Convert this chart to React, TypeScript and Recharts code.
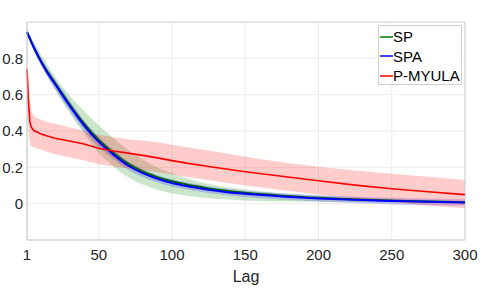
import React from 'react';
import { ComposedChart, Line, Area, XAxis, YAxis, CartesianGrid, ReferenceLine } from 'recharts';

const lags = [1, 2, 3, 4, 6, 8, 10, 15, 20, 30, 40, 50, 60, 70, 80, 90, 100, 110, 125, 150, 175, 200, 225, 250, 275, 300];

const spMean = [0.944, 0.926, 0.908, 0.89, 0.856, 0.824, 0.794, 0.726, 0.667, 0.548, 0.44, 0.35, 0.28, 0.22, 0.177, 0.146, 0.123, 0.105, 0.084, 0.06, 0.044, 0.032, 0.023, 0.017, 0.012, 0.008];
const spLow = [0.93, 0.91, 0.89, 0.87, 0.835, 0.8, 0.77, 0.7, 0.63, 0.5, 0.385, 0.28, 0.205, 0.145, 0.105, 0.077, 0.058, 0.044, 0.03, 0.018, 0.012, 0.01, 0.008, 0.006, 0.004, 0.002];
const spHigh = [0.958, 0.945, 0.93, 0.915, 0.885, 0.857, 0.83, 0.765, 0.7, 0.595, 0.51, 0.43, 0.36, 0.295, 0.245, 0.2, 0.168, 0.14, 0.108, 0.078, 0.058, 0.044, 0.034, 0.026, 0.02, 0.014];

const spaMean = [0.944, 0.925, 0.907, 0.889, 0.854, 0.821, 0.79, 0.72, 0.66, 0.54, 0.43, 0.34, 0.27, 0.21, 0.168, 0.137, 0.114, 0.097, 0.077, 0.054, 0.04, 0.029, 0.021, 0.015, 0.01, 0.006];
const spaLow = [0.935, 0.914, 0.894, 0.874, 0.837, 0.802, 0.769, 0.696, 0.634, 0.512, 0.402, 0.313, 0.245, 0.187, 0.146, 0.116, 0.094, 0.078, 0.059, 0.037, 0.023, 0.012, 0.003, -0.004, -0.009, -0.012];
const spaHigh = [0.952, 0.935, 0.919, 0.903, 0.871, 0.84, 0.811, 0.744, 0.686, 0.568, 0.458, 0.367, 0.295, 0.233, 0.19, 0.158, 0.134, 0.116, 0.095, 0.071, 0.057, 0.046, 0.038, 0.033, 0.028, 0.024];

const pmMean = [0.74, 0.56, 0.45, 0.42, 0.4, 0.395, 0.385, 0.372, 0.36, 0.345, 0.328, 0.305, 0.29, 0.278, 0.266, 0.252, 0.237, 0.223, 0.205, 0.176, 0.151, 0.126, 0.102, 0.082, 0.066, 0.05];
const pmLow = [0.7, 0.4, 0.33, 0.315, 0.31, 0.305, 0.3, 0.285, 0.272, 0.255, 0.237, 0.217, 0.205, 0.195, 0.185, 0.172, 0.16, 0.147, 0.13, 0.1, 0.075, 0.05, 0.028, 0.008, -0.01, -0.025];
const pmHigh = [0.77, 0.7, 0.56, 0.51, 0.48, 0.47, 0.465, 0.45, 0.44, 0.42, 0.4, 0.38, 0.365, 0.355, 0.348, 0.338, 0.325, 0.31, 0.292, 0.258, 0.228, 0.203, 0.182, 0.165, 0.148, 0.13];

const xTicks = [1, 50, 100, 150, 200, 250, 300];
const yTicks = [0, 0.2, 0.4, 0.6, 0.8];
const seriesNames = ['SP', 'SPA', 'P-MYULA'];
const seriesColors = ['#008000', '#0000ff', '#ff0000'];

const data = lags.map((lag, i) => ({
  lag,
  sp: spMean[i],
  spBand: [spLow[i], spHigh[i]],
  spa: spaMean[i],
  spaBand: [spaLow[i], spaHigh[i]],
  pm: pmMean[i],
  pmBand: [pmLow[i], pmHigh[i]],
}));

const FONT = '"Liberation Sans", Arial, Helvetica, sans-serif';

const LegendBox = () => (
  <div
    style={{
      position: 'absolute',
      left: 378,
      top: 25,
      width: 84,
      height: 60,
      border: '1px solid #d0d0d0',
      background: '#fff',
      fontFamily: FONT,
      fontSize: 15,
      color: '#000',
      boxSizing: 'border-box',
      paddingTop: 1,
      whiteSpace: 'nowrap',
    }}
  >
    {seriesNames.map((n, i) => (
      <div key={n} style={{ display: 'flex', alignItems: 'center', height: 19.5, lineHeight: '19.5px' }}>
        <svg width={13} height={4} style={{ marginLeft: 1, marginRight: 0, display: 'block' }}>
          <line x1={0} y1={2} x2={13} y2={2} stroke={seriesColors[i]} strokeWidth={1.5} />
        </svg>
        <span>{n}</span>
      </div>
    ))}
  </div>
);

export default function App() {
  return (
    <div style={{ position: 'absolute', left: 0, top: 0, width: 485, height: 290, background: '#fff' }}>
      <ComposedChart
        width={485}
        height={290}
        data={data}
        margin={{ top: 22, right: 20, bottom: 0, left: 0 }}
        style={{ fontFamily: FONT }}
      >
        <CartesianGrid stroke="#ececec" strokeWidth={1} />
        <XAxis
          dataKey="lag"
          type="number"
          domain={[1, 300]}
          ticks={xTicks}
          interval={0}
          height={50}
          tickLine={false}
          tickSize={0}
          tickMargin={9}
          axisLine={{ stroke: '#c4c4c4' }}
          tick={{ fill: '#262626', fontSize: 15, fontFamily: FONT }}
          label={{
            content: (props: any) => (
              <text
                x={props.viewBox.x + props.viewBox.width / 2}
                y={282}
                textAnchor="middle"
                fill="#262626"
                fontSize={16}
                fontFamily={FONT}
              >
                Lag
              </text>
            ),
          }}
        />
        <YAxis
          type="number"
          domain={[-0.2, 1]}
          ticks={yTicks}
          interval={0}
          width={27}
          tickLine={false}
          tickSize={0}
          tickMargin={4}
          axisLine={{ stroke: '#c4c4c4' }}
          tick={{ fill: '#262626', fontSize: 15, fontFamily: FONT }}
          tickFormatter={(v: number) => (v === 0 ? '0' : v.toFixed(1))}
        />
        <ReferenceLine y={1} stroke="#d4d4d4" strokeWidth={1} ifOverflow="visible" />
        <ReferenceLine x={300} stroke="#d4d4d4" strokeWidth={1} ifOverflow="visible" />
        <Area dataKey="spBand" type="monotone" stroke="none" fill="#008000" fillOpacity={0.2} isAnimationActive={false} />
        <Area dataKey="spaBand" type="monotone" stroke="none" fill="#0000ff" fillOpacity={0.2} isAnimationActive={false} />
        <Area dataKey="pmBand" type="linear" stroke="none" fill="#ff0000" fillOpacity={0.2} isAnimationActive={false} />
        <Line dataKey="sp" name="SP" type="monotone" stroke="#006400" strokeWidth={2} dot={false} isAnimationActive={false} />
        <Line dataKey="spa" name="SPA" type="monotone" stroke="#0000ff" strokeWidth={2} dot={false} isAnimationActive={false} />
        <Line dataKey="pm" name="P-MYULA" type="linear" stroke="#ff0000" strokeWidth={1.6} dot={false} isAnimationActive={false} />
      </ComposedChart>
      <LegendBox />
    </div>
  );
}
